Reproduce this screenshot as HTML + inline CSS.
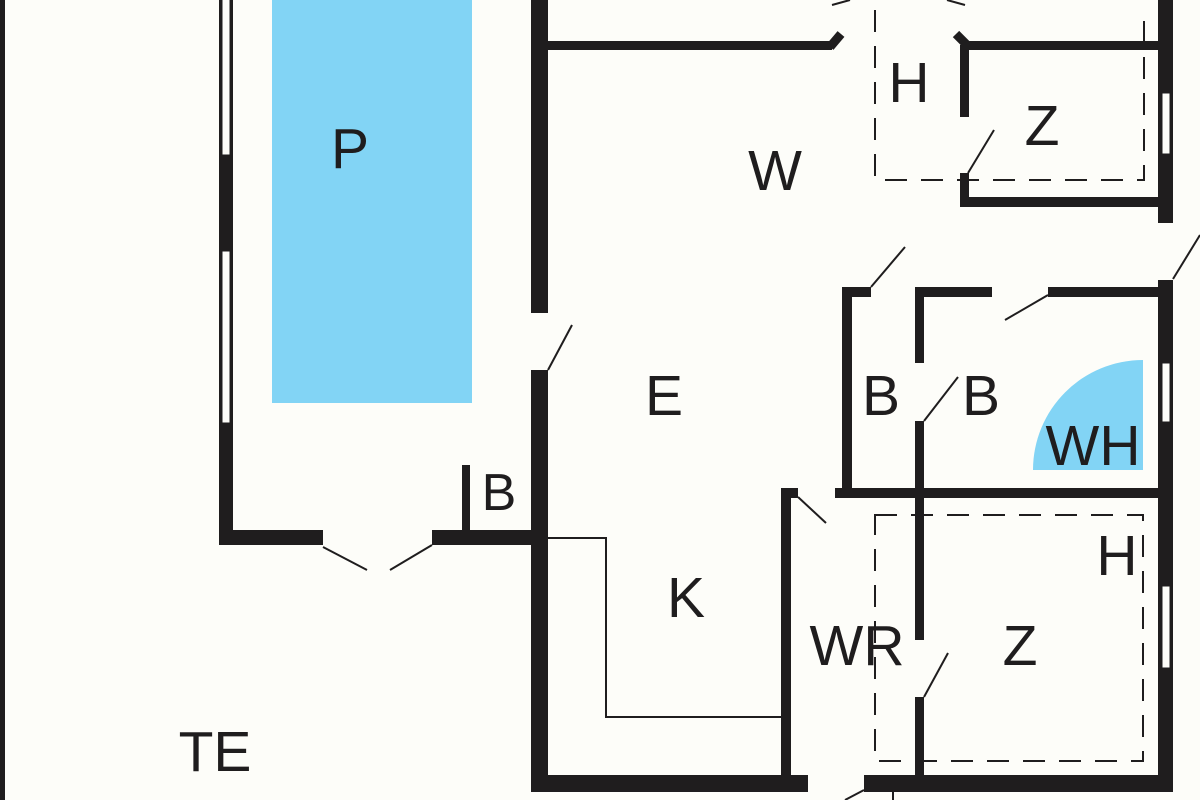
<!DOCTYPE html>
<html><head><meta charset="utf-8"><style>
html,body{margin:0;padding:0;background:#fdfdf9;}
svg{display:block}
text{font-family:"Liberation Sans",sans-serif;fill:#1f1d1e;font-size:57px;text-anchor:middle}
</style></head><body>
<svg width="1200" height="800" viewBox="0 0 1200 800" xmlns="http://www.w3.org/2000/svg">
<rect width="1200" height="800" fill="#fdfdf9"/>
<g fill="#1f1d1e">
<!-- far left line -->
<rect x="0" y="0" width="5" height="800"/>
<!-- pool room left wall -->
<rect x="219" y="0" width="14" height="545"/>
<rect x="219" y="530" width="104" height="15"/>
<rect x="432" y="530" width="116" height="15"/>
<rect x="462" y="465" width="8" height="70"/>
<!-- main left wall -->
<rect x="531" y="0" width="17" height="313"/>
<rect x="531" y="370" width="17" height="422"/>
<!-- top wall -->
<rect x="548" y="41" width="284" height="9"/>
<rect x="967" y="41" width="191" height="9"/>
<!-- Z room -->
<rect x="960" y="45" width="9" height="72"/>
<rect x="960" y="173" width="9" height="34"/>
<rect x="960" y="197" width="198" height="10"/>
<!-- right wall -->
<rect x="1158" y="0" width="15" height="223"/>
<rect x="1158" y="280" width="15" height="512"/>
<!-- B rooms top wall -->
<rect x="843" y="287" width="28" height="10"/>
<rect x="915" y="287" width="77" height="10"/>
<rect x="1048" y="287" width="110" height="10"/>
<rect x="842" y="287" width="10" height="206"/>
<rect x="915" y="287" width="9" height="76"/>
<rect x="915" y="421" width="9" height="219"/>
<rect x="915" y="697" width="9" height="95"/>
<rect x="835" y="488" width="323" height="10"/>
<rect x="781" y="488" width="17" height="10"/>
<rect x="781" y="488" width="10" height="304"/>
<!-- bottom wall -->
<rect x="531" y="775" width="277" height="17"/>
<rect x="864" y="775" width="309" height="17"/>
</g>
<!-- angled ends top door -->
<g stroke="#1f1d1e" stroke-width="9" fill="none">
<line x1="830" y1="47" x2="841" y2="34"/>
<line x1="969" y1="47" x2="956" y2="34"/>
</g>
<!-- windows -->
<g fill="#fdfdf9" stroke="#1f1d1e" stroke-width="1">
<rect x="222" y="-2" width="8" height="157"/>
<rect x="222" y="251" width="8" height="172"/>
<rect x="1162" y="93" width="8" height="61"/>
<rect x="1162" y="363" width="8" height="59"/>
<rect x="1162" y="586" width="8" height="82"/>
</g>
<!-- pool -->
<rect x="272" y="0" width="200" height="403" fill="#82d4f5"/>
<!-- WH quarter circle -->
<path d="M1143 470 L1033 470 A110 110 0 0 1 1143 360 Z" fill="#82d4f5"/>
<!-- dashed areas -->
<g stroke="#1f1d1e" stroke-width="2" fill="none" stroke-dasharray="22,14">
<polyline points="875,10 875,180 1144,180 1144,10"/>
<rect x="875" y="515" width="268" height="246"/>
</g>
<!-- thin lines (counter) -->
<polyline points="548,538 606,538 606,717 782,717" stroke="#1f1d1e" stroke-width="2" fill="none"/>
<!-- door swings -->
<g stroke="#1f1d1e" stroke-width="2" fill="none">
<line x1="548" y1="370" x2="572" y2="325"/>
<line x1="323" y1="547" x2="367" y2="570"/>
<line x1="432" y1="545" x2="390" y2="570"/>
<line x1="968" y1="173" x2="994" y2="130"/>
<line x1="1173" y1="279" x2="1200" y2="235"/>
<line x1="871" y1="287" x2="905" y2="247"/>
<line x1="1048" y1="295" x2="1005" y2="320"/>
<line x1="924" y1="421" x2="958" y2="377"/>
<line x1="798" y1="497" x2="826" y2="523"/>
<line x1="924" y1="697" x2="948" y2="653"/>
<line x1="864" y1="790" x2="845" y2="800"/>
<line x1="893" y1="790" x2="893" y2="800"/>
<line x1="832" y1="5" x2="850" y2="0"/>
<line x1="965" y1="5" x2="947" y2="0"/>
</g>
<!-- labels -->
<text x="350" y="168">P</text>
<text x="499" y="510" style="font-size:52px">B</text>
<text x="775" y="190">W</text>
<text x="909" y="102">H</text>
<text x="1042" y="145">Z</text>
<text x="664" y="415">E</text>
<text x="881" y="415">B</text>
<text x="981" y="415">B</text>
<text x="1093" y="465">WH</text>
<text x="686" y="617">K</text>
<text x="857" y="665">WR</text>
<text x="1020" y="665">Z</text>
<text x="1117" y="575">H</text>
<text x="215" y="771">TE</text>
</svg>
</body></html>
